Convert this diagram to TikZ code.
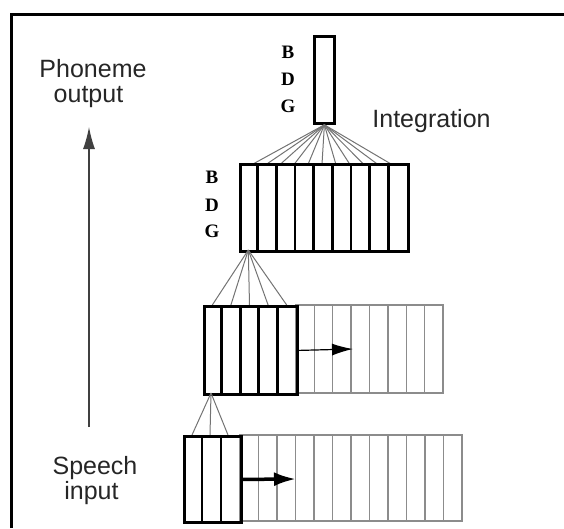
\documentclass[tikz,border=0pt]{standalone}
\usepackage{fontspec}
\setmainfont{Liberation Sans}
\newfontfamily\bdgfont{Liberation Serif}
\usetikzlibrary{arrows.meta}
\tikzset{
  boldline/.style={line width=2.8pt, black},
  grayline/.style={line width=1.3pt, black!45},
  fanline/.style={line width=1pt, black!55},
  lbl/.style={font=\fontsize{25pt}{27pt}\selectfont, text=black!85, inner sep=0pt, anchor=base},
  bdg/.style={font=\bdgfont\bfseries\fontsize{19pt}{21pt}\selectfont, inner sep=0pt},
}
\begin{document}
\begin{tikzpicture}[x=1pt,y=-1pt]
\useasboundingbox (0,0) rectangle (564,528);
% frame
\draw[line width=3pt] (11,528) -- (11,14) -- (564,14);
% labels on the left
\node[lbl] (phon) at (93,77) {Phoneme};
\node[lbl] (outp) at (88.5,102) {output};
\node[lbl] (speech) at (95,474) {Speech};
\node[lbl] (inp) at (91.5,499) {input};
\node[lbl] (integ) at (431.5,127) {Integration};
\coordinate (leftbot) at (89,427);
\coordinate (lefttop) at (89,127);
\draw[line width=1.2pt, black!75, -{Latex[length=22pt,width=12pt]}] (leftbot) -- (lefttop);
% ---- top output unit
\node[draw, boldline, minimum width=20pt, minimum height=87pt, inner sep=0pt, anchor=north west] (out) at (313,35) {};
\node[bdg] (b1) at (288,52) {B};
\node[bdg] (d1) at (288,79) {D};
\node[bdg] (g1) at (288,106) {G};
% ---- integration layer (9 cells)
\foreach \i in {1,...,11} {
  \pgfmathsetmacro{\xx}{253+(\i-1)*13.8}
  \draw[fanline] (out.south) -- (\xx,164);
}
\node[draw, boldline, minimum width=168pt, minimum height=87pt, inner sep=0pt, anchor=north west] (hid2) at (239,163) {};
\foreach \i in {1,...,8} {
  \pgfmathsetmacro{\xx}{239+\i*18.667}
  \draw[boldline] (\xx,163) -- (\xx,250);
}
\node[bdg] (b2) at (212,177) {B};
\node[bdg] (d2) at (212,205) {D};
\node[bdg] (g2) at (212,231) {G};
% ---- hidden layer 1 (5 bold + 8 gray cells)
\coordinate (apex2) at (248.3,250);
\foreach \i in {0,...,4} {
  \pgfmathsetmacro{\xx}{212.3+\i*18.6}
  \draw[fanline] (apex2) -- (\xx,305);
}
\draw[grayline] (296,305) rectangle (443,393);
\foreach \i in {1,...,7} {
  \pgfmathsetmacro{\xx}{296+\i*18.375}
  \draw[grayline] (\xx,305) -- (\xx,393);
}
\node[draw, boldline, minimum width=93pt, minimum height=88pt, inner sep=0pt, anchor=north west] (hid1) at (203,305) {};
\foreach \i in {1,...,4} {
  \pgfmathsetmacro{\xx}{203+\i*18.6}
  \draw[boldline] (\xx,305) -- (\xx,393);
}
\coordinate (arr1) at (353,349);
\draw[line width=1.2pt, -{Latex[length=21pt,width=12pt]}] (hid1.east) -- (arr1);
% ---- input layer (3 bold + 12 gray cells)
\coordinate (apex1) at (211,393);
\foreach \xx in {192,210,228} {
  \draw[fanline] (apex1) -- (\xx,435);
}
\draw[grayline] (240,435) rectangle (462,521);
\foreach \i in {1,...,11} {
  \pgfmathsetmacro{\xx}{240+\i*18.5}
  \draw[grayline] (\xx,435) -- (\xx,521);
}
\node[draw, boldline, minimum width=57pt, minimum height=86pt, inner sep=0pt, anchor=north west] (inl) at (183,435) {};
\foreach \i in {1,2} {
  \pgfmathsetmacro{\xx}{183+\i*19}
  \draw[boldline] (\xx,435) -- (\xx,521);
}
\coordinate (arr2) at (296,479);
\draw[line width=3.5pt, -{Latex[length=22pt,width=14pt]}] (inl.east) -- (arr2);
\end{tikzpicture}
\end{document}
